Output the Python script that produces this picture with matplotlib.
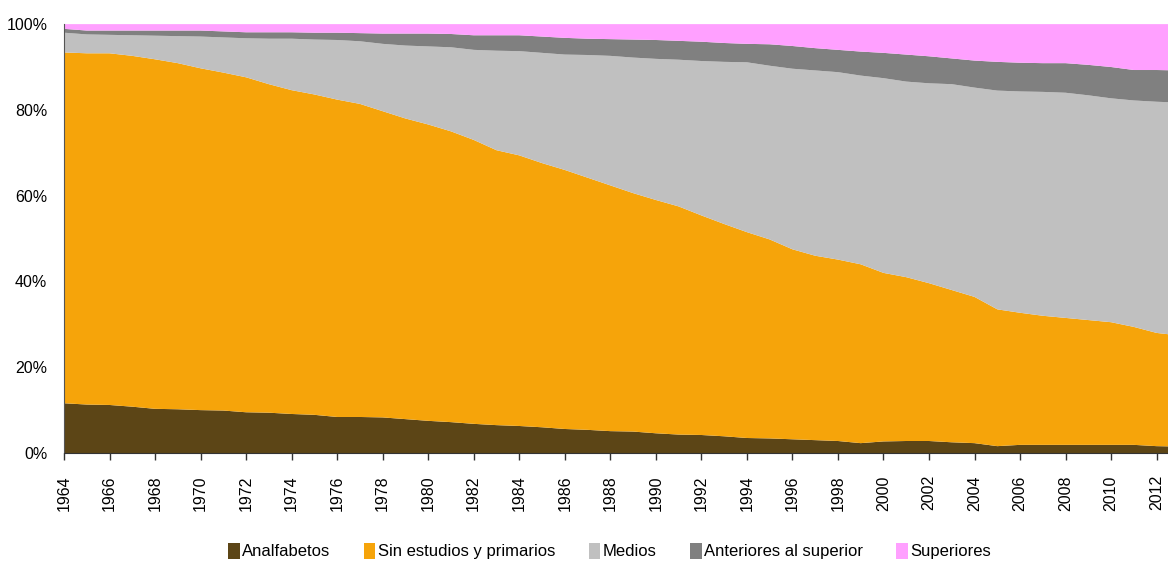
import numpy as np
import matplotlib.pyplot as plt
from matplotlib.patches import Patch

plt.rcParams['font.family'] = ['Liberation Sans', 'DejaVu Sans']

# Datos: porcentaje de poblacion por nivel de estudios
anios = list(range(1964, 2014))

analfabetos = [11.6, 11.3, 11.2, 10.8, 10.3, 10.2, 10.0, 9.9, 9.5, 9.4,
               9.1, 8.9, 8.4, 8.4, 8.3, 7.9, 7.5, 7.2, 6.8, 6.5,
               6.3, 6.0, 5.6, 5.4, 5.1, 5.0, 4.6, 4.3, 4.2, 3.9,
               3.5, 3.4, 3.2, 3.0, 2.8, 2.3, 2.7, 2.8, 2.8, 2.5,
               2.3, 1.6, 1.9, 1.9, 1.9, 1.9, 1.9, 1.9, 1.6, 1.5]

sin_estudios = [81.8, 81.9, 82.0, 81.8, 81.5, 80.7, 79.7, 78.8, 78.1, 76.6,
                75.5, 74.7, 74.0, 73.0, 71.4, 70.1, 69.1, 67.8, 66.2, 64.1,
                63.1, 61.6, 60.4, 58.8, 57.3, 55.6, 54.4, 53.2, 51.2, 49.5,
                48.0, 46.4, 44.3, 43.0, 42.3, 41.7, 39.3, 38.2, 36.8, 35.5,
                34.1, 31.9, 30.8, 30.1, 29.6, 29.1, 28.6, 27.5, 26.4, 25.9]

medios = [4.6, 4.4, 4.3, 4.8, 5.5, 6.3, 7.4, 8.2, 9.1, 10.6,
          12.0, 12.8, 13.9, 14.6, 15.7, 17.0, 18.2, 19.6, 21.0, 23.2,
          24.3, 25.7, 26.9, 28.6, 30.2, 31.6, 32.9, 34.2, 36.0, 37.8,
          39.6, 40.5, 42.1, 43.2, 43.7, 44.0, 45.4, 45.6, 46.6, 48.0,
          48.8, 51.0, 51.6, 52.2, 52.5, 52.4, 52.2, 52.8, 53.9, 54.3]

anteriores = [0.9, 0.9, 1.0, 1.1, 1.2, 1.3, 1.4, 1.4, 1.4, 1.5,
              1.5, 1.6, 1.7, 1.9, 2.4, 2.8, 3.0, 3.1, 3.4, 3.6,
              3.7, 3.8, 3.9, 3.8, 3.9, 4.2, 4.4, 4.4, 4.5, 4.4,
              4.3, 5.0, 5.3, 5.2, 5.2, 5.6, 5.9, 6.3, 6.3, 6.0,
              6.3, 6.7, 6.7, 6.7, 6.9, 7.1, 7.3, 7.1, 7.4, 7.5]

superiores = [1.1, 1.5, 1.5, 1.5, 1.5, 1.5, 1.5, 1.7, 1.9, 1.9,
              1.9, 2.0, 2.0, 2.1, 2.2, 2.2, 2.2, 2.3, 2.6, 2.6,
              2.6, 2.9, 3.2, 3.4, 3.5, 3.6, 3.7, 3.9, 4.1, 4.4,
              4.6, 4.7, 5.1, 5.6, 6.0, 6.4, 6.7, 7.1, 7.5, 8.0,
              8.5, 8.8, 9.0, 9.1, 9.1, 9.5, 10.0, 10.7, 10.7, 10.8]

etiquetas = ['Analfabetos', 'Sin estudios y primarios', 'Medios',
             'Anteriores al superior', 'Superiores']
colores = ['#5c4516', '#f6a40a', '#c0c0c0', '#808080', '#ffa0ff']

fig = plt.figure(figsize=(11.68, 5.61), dpi=100)
ax = fig.add_axes([0.0548, 0.1925, 0.9452, 0.7645])

ax.stackplot(anios, analfabetos, sin_estudios, medios, anteriores, superiores,
             colors=colores, linewidth=0)

ax.set_xlim(1964, 2012.5)
ax.set_ylim(0, 100)

# Ejes
ax.set_xticks(range(1964, 2013, 2))
ax.set_xticklabels([str(a) for a in range(1964, 2013, 2)], rotation=90, fontsize=11.5)
ax.set_yticks(range(0, 101, 20))
ax.set_yticklabels([f'{v}%' for v in range(0, 101, 20)], fontsize=11.5)
ax.tick_params(axis='y', length=0, pad=12)
ax.tick_params(axis='x', length=5, width=1, color='#333333', pad=11)
ax.spines['top'].set_visible(False)
ax.spines['right'].set_visible(False)
ax.spines['left'].set_color('#555555')
ax.spines['bottom'].set_color('#333333')

# Leyenda abajo
handles = [Patch(facecolor=c, edgecolor='none') for c in colores]
fig.legend(handles, etiquetas, loc='center', bbox_to_anchor=(0.522, 0.018),
           ncol=5, frameon=False, fontsize=12, handlelength=0.7, handleheight=1.1,
           handletextpad=0.15, columnspacing=2.0)

fig.savefig('out.png', dpi=100)
